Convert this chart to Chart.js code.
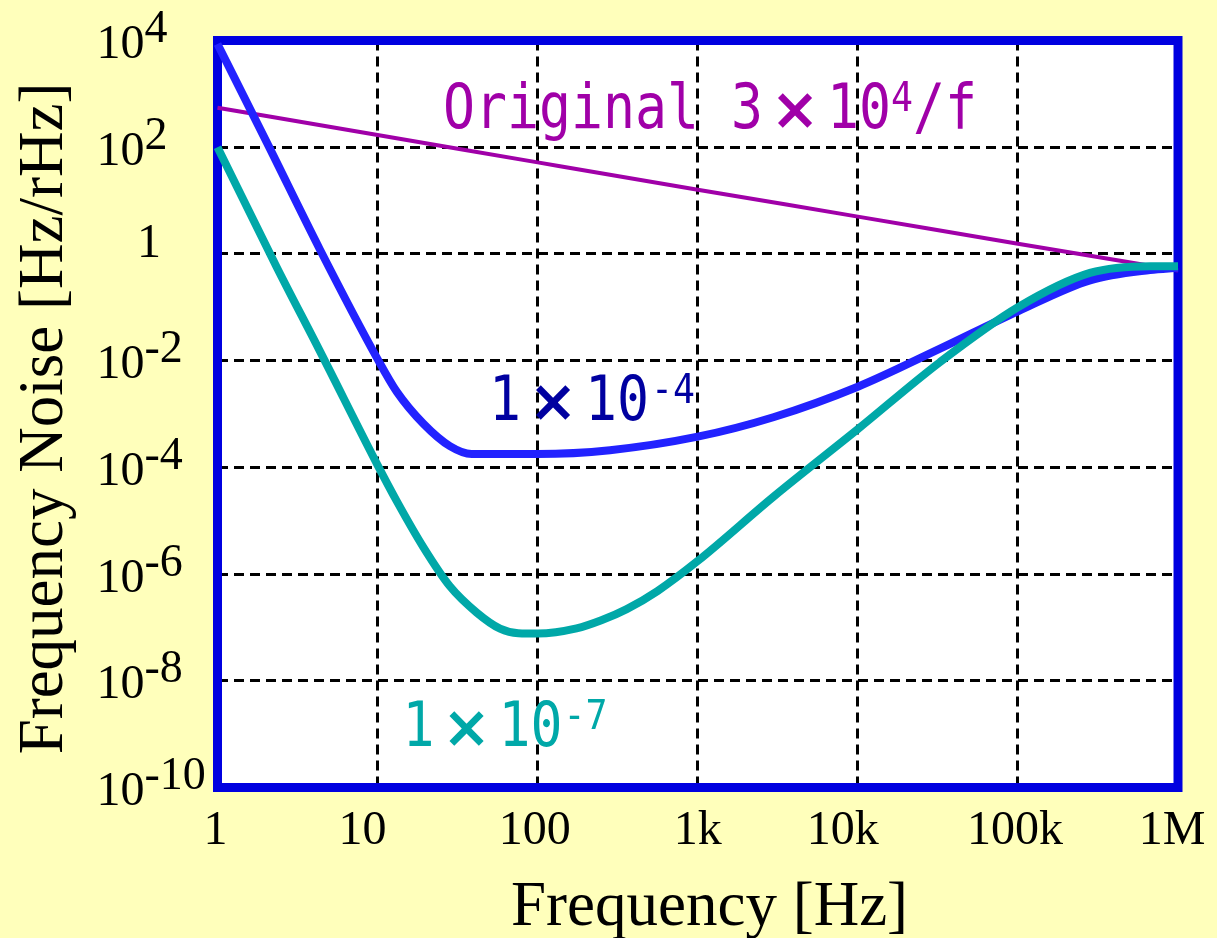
<!DOCTYPE html>
<html>
<head>
<meta charset="utf-8">
<script src="https://cdn.jsdelivr.net/npm/chart.js@4.4.1/dist/chart.umd.min.js"></script>
<style>
html,body{margin:0;padding:0;background:#FFFFBB;overflow:hidden}
#wrap{width:1217px;height:938px;position:relative}
canvas{display:block}
</style>
</head>
<body>
<div id="wrap"><canvas id="c" width="1217" height="938"></canvas></div>
<script>
// ---- data ----
const xTickValues = [1, 10, 100, 1e3, 1e4, 1e5, 1e6];
const xTickLabels = ['1', '10', '100', '1k', '10k', '100k', '1M'];
const yTickValues = [1e4, 1e2, 1, 1e-2, 1e-4, 1e-6, 1e-8, 1e-10];
const yTickExponents = ['4', '2', '', '-2', '-4', '-6', '-8', '-10'];

// Original 3x10^4/f
const origFreq  = [1, 10, 100, 1e3, 1e4, 1e5, 1e6];
const origNoise = [550, 170, 52, 16, 5, 1.55, 0.49];

// 1x10^-4
const blueFreq  = [1, 2.08, 4.37, 10, 13.2, 19.3, 28.3, 38.7, 100, 283, 1000, 2965, 1e4, 32600, 1e5, 282000, 668000, 1e6];
const blueNoise = [8600, 107, 1.2, 0.0107, 2.6e-3, 6.6e-4, 2.5e-4, 1.78e-4, 1.78e-4, 2.1e-4, 3.76e-4, 8.7e-4, 3.25e-3, 0.0168, 0.084, 0.32, 0.50, 0.55];

// 1x10^-7
const tealFreq  = [1, 2.34, 4.37, 10, 13.2, 19.3, 28.3, 41.6, 58.2, 75.7, 100, 175, 250, 360, 560, 1000, 2965, 1e4, 32600, 1e5, 282000, 668000, 1e6];
const tealNoise = [100, 0.57, 0.0149, 1.1e-4, 2.3e-5, 3.2e-6, 5.9e-7, 1.9e-7, 9.5e-8, 7.8e-8, 7.7e-8, 9.6e-8, 1.36e-7, 2.2e-7, 4.8e-7, 1.76e-6, 2.8e-5, 5.2e-4, 9.4e-3, 0.1, 0.44, 0.59, 0.59];

const pts = (xs, ys) => xs.map((x, i) => ({x: x, y: ys[i]}));

// ---- drawing helpers ----
const SERIF = '"Liberation Serif", "Times New Roman", serif';
const MONO = '"DejaVu Sans Mono", monospace';

function drawSegments(ctx, segs, x0, base, color) {
  let x = x0;
  ctx.fillStyle = color;
  ctx.textAlign = 'left';
  ctx.textBaseline = 'alphabetic';
  for (const s of segs) {
    if (s.times) {
      const w = 64;
      ctx.save();
      ctx.font = 'bold 58px "DejaVu Sans", sans-serif';
      ctx.textAlign = 'center';
      ctx.fillText(s.t, x + w / 2, base + 1);
      ctx.restore();
      x += w;
      continue;
    }
    const size = s.sup ? 40 : 62;
    const pitch = s.sup ? 22 : 32;
    const adv = size * 0.6021;
    const y = s.sup ? base - 17 : base;
    const xs = x + (s.gap || 0);
    ctx.save();
    ctx.translate(xs, y);
    ctx.scale(pitch / adv, 1);
    ctx.font = size + 'px ' + MONO;
    ctx.fillText(s.t, 0, 0);
    ctx.restore();
    x = xs + pitch * s.t.length;
  }
}

const xNudge = [-2, -15, -3, 0, -15, -3, -6];

const decor = {
  id: 'decor',
  beforeDraw(chart) {
    const {ctx, chartArea: a} = chart;
    ctx.save();
    ctx.fillStyle = '#FFFFBB';
    ctx.fillRect(0, 0, chart.width, chart.height);
    ctx.fillStyle = '#FFFFFF';
    ctx.fillRect(a.left, a.top, a.right - a.left, a.bottom - a.top);
    ctx.restore();
  },
  beforeDatasetsDraw(chart) {
    const {ctx, chartArea: a} = chart;
    ctx.save();
    ctx.strokeStyle = '#0000E0';
    ctx.lineWidth = 9;
    ctx.strokeRect(a.left, a.top, a.right - a.left, a.bottom - a.top);
    ctx.restore();
  },
  afterDraw(chart) {
    const ctx = chart.ctx;
    const xs = chart.scales.x, ys = chart.scales.y;
    ctx.save();
    ctx.fillStyle = '#000000';
    ctx.textBaseline = 'alphabetic';
    // x tick labels
    ctx.font = '48px ' + SERIF;
    ctx.textAlign = 'center';
    xTickValues.forEach((v, i) => {
      ctx.fillText(xTickLabels[i], xs.getPixelForValue(v) + xNudge[i], 844);
    });
    // y tick labels
    ctx.textAlign = 'left';
    yTickValues.forEach((v, i) => {
      const py = ys.getPixelForValue(v);
      const e = yTickExponents[i];
      if (e === '') {
        ctx.font = '48px ' + SERIF;
        ctx.fillText('1', 137, py + 3.5);
      } else {
        ctx.font = '48px ' + SERIF;
        ctx.fillText('10', 96.5, py + 17.5);
        const w = ctx.measureText('10').width;
        ctx.font = '46px ' + SERIF;
        ctx.fillText(e, 96.5 + w, py + 1.5);
      }
    });
    // axis titles
    ctx.font = '63px ' + SERIF;
    ctx.textAlign = 'left';
    ctx.fillText('Frequency [Hz]', 511, 925);
    ctx.save();
    ctx.translate(61.5, 418.5);
    ctx.rotate(-Math.PI / 2);
    ctx.textAlign = 'center';
    ctx.fillText('Frequency Noise [Hz/rHz]', 0, 0);
    ctx.restore();
    // series labels
    drawSegments(ctx, [{t: 'Original 3'}, {t: '\u00D7', times: true}, {t: '10'}, {t: '4', sup: true}, {t: '/f'}], 443, 128, '#A000A8');
    drawSegments(ctx, [{t: '1'}, {t: '\u00D7', times: true}, {t: '10'}, {t: '-4', sup: true, gap: 2}], 489, 420, '#0000A0');
    drawSegments(ctx, [{t: '1'}, {t: '\u00D7', times: true}, {t: '10'}, {t: '-7', sup: true, gap: 1}], 402.5, 746, '#00A8A8');
    ctx.restore();
  }
};

const gridCommon = {
  color: '#000000',
  lineWidth: 3,
  drawTicks: false,
  drawOnChartArea: true
};

new Chart(document.getElementById('c'), {
  type: 'line',
  data: {
    datasets: [
      {label: '1x10^-7', data: pts(tealFreq, tealNoise), borderColor: '#00A8A8', borderWidth: 8, order: 0},
      {label: '1x10^-4', data: pts(blueFreq, blueNoise), borderColor: '#2222FF', borderWidth: 8, order: 1},
      {label: 'Original 3x10^4/f', data: pts(origFreq, origNoise), borderColor: '#A000A8', borderWidth: 4, order: 2}
    ]
  },
  options: {
    responsive: false,
    animation: false,
    devicePixelRatio: 1,
    events: [],
    layout: {padding: {left: 217.5, right: 39, top: 40.5, bottom: 150.5}},
    elements: {
      point: {radius: 0, hoverRadius: 0},
      line: {fill: false, cubicInterpolationMode: 'monotone', borderCapStyle: 'butt', borderJoinStyle: 'round'}
    },
    datasets: {line: {clip: false}},
    plugins: {legend: {display: false}, title: {display: false}, tooltip: {enabled: false}},
    scales: {
      x: {
        type: 'logarithmic', min: 1, max: 1e6,
        afterBuildTicks: s => { s.ticks = xTickValues.map(v => ({value: v})); },
        afterFit: s => { s.height = 0; },
        ticks: {display: false},
        grid: gridCommon,
        border: {display: false, dash: [10, 6]}
      },
      y: {
        type: 'logarithmic', min: 1e-10, max: 1e4,
        afterBuildTicks: s => { s.ticks = yTickValues.map(v => ({value: v})); },
        afterFit: s => { s.width = 0; },
        ticks: {display: false},
        grid: gridCommon,
        border: {display: false, dash: [10, 6]}
      }
    }
  },
  plugins: [decor]
});
</script>
</body>
</html>
